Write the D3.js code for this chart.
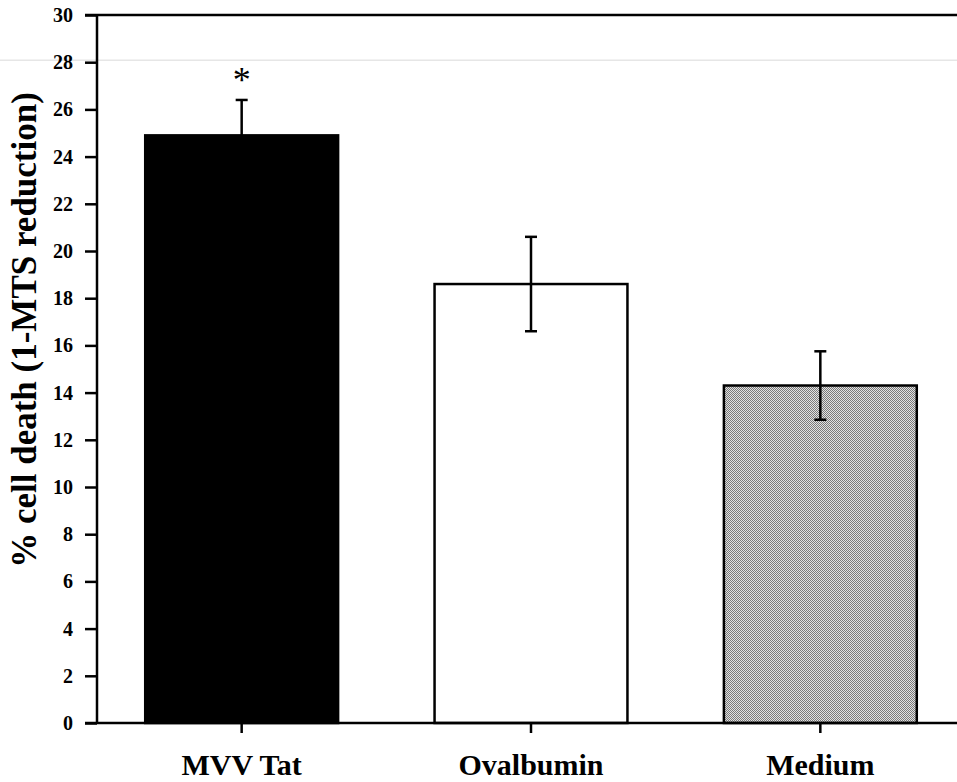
<!DOCTYPE html>
<html>
<head>
<meta charset="utf-8">
<script src="https://cdn.jsdelivr.net/npm/d3@7"></script>
<style>
  html, body { margin: 0; padding: 0; background: #fff; }
  svg { display: block; }
</style>
</head>
<body>
<script>
// Cell death after treatment, mean ± error
const categories = ["MVV Tat", "Ovalbumin", "Medium"];
const means = [24.9, 18.6, 14.3];
const errors = [1.5, 2.0, 1.45];
const significant = [true, false, false];
const yTicks = [0, 2, 4, 6, 8, 10, 12, 14, 16, 18, 20, 22, 24, 26, 28, 30];
const yLabel = "% cell death (1-MTS reduction)";

const W = 957, H = 782;
const margin = { left: 97, top: 15, right: -8, bottom: 59 };
const FONT = "'Liberation Serif', 'Times New Roman', Times, serif";

const svg = d3.select("body").append("svg")
  .attr("width", W).attr("height", H)
  .attr("font-family", FONT);

// dithered grey fill for the medium control bar
const defs = svg.append("defs");
const pat = defs.append("pattern")
  .attr("id", "dither").attr("patternUnits", "userSpaceOnUse")
  .attr("width", 2).attr("height", 2);
pat.append("rect").attr("width", 2).attr("height", 2).attr("fill", "#e2e2e2");
pat.append("rect").attr("x", 0).attr("y", 0).attr("width", 1).attr("height", 1).attr("fill", "#7a7a7a");
pat.append("rect").attr("x", 1).attr("y", 1).attr("width", 1).attr("height", 1).attr("fill", "#7a7a7a");

const x = d3.scaleBand()
  .domain(categories)
  .range([margin.left, W - margin.right])
  .paddingInner(1 / 3)
  .paddingOuter(1 / 6);

const y = d3.scaleLinear()
  .domain([0, 30])
  .range([H - margin.bottom, margin.top]);

const fills = ["#000", "#fff", "url(#dither)"];

// faint horizontal streak across the page
svg.append("line")
  .attr("x1", 0).attr("x2", W)
  .attr("y1", y(28) - 2).attr("y2", y(28) - 2)
  .attr("stroke", "#e6e6e6").attr("stroke-width", 1.5);

// bars
svg.append("g").selectAll("rect")
  .data(categories)
  .join("rect")
  .attr("x", d => x(d))
  .attr("y", (d, i) => y(means[i]))
  .attr("width", x.bandwidth())
  .attr("height", (d, i) => y(0) - y(means[i]))
  .attr("fill", (d, i) => fills[i])
  .attr("stroke", "#000")
  .attr("stroke-width", 2.5);

// error bars
const eb = svg.append("g").attr("stroke", "#000").attr("stroke-width", 2.5);
categories.forEach((c, i) => {
  const cx = x(c) + x.bandwidth() / 2;
  const lo = means[i] - errors[i], hi = means[i] + errors[i];
  eb.append("line").attr("x1", cx).attr("x2", cx)
    .attr("y1", y(i === 0 ? means[i] : lo)).attr("y2", y(hi));
  eb.append("line").attr("x1", cx - 6).attr("x2", cx + 6).attr("y1", y(hi)).attr("y2", y(hi));
  if (i !== 0) eb.append("line").attr("x1", cx - 6).attr("x2", cx + 6).attr("y1", y(lo)).attr("y2", y(lo));
  if (significant[i]) {
    svg.append("text")
      .attr("x", cx).attr("y", y(hi) - 8)
      .attr("text-anchor", "middle")
      .attr("font-size", 36).attr("font-weight", "normal")
      .text("*");
  }
});

// y axis
const yAxis = svg.append("g")
  .attr("transform", `translate(${margin.left},0)`)
  .call(d3.axisLeft(y).tickValues(yTicks).tickSize(12).tickPadding(12).tickFormat(d3.format("d")))
  .attr("font-family", FONT).attr("font-size", 20).attr("font-weight", "bold");
yAxis.select(".domain").attr("stroke-width", 2.5).attr("d", `M0,${y(30)}V${y(0)}`);
yAxis.selectAll(".tick line").attr("stroke-width", 2.5);

// x axis
const xAxis = svg.append("g")
  .attr("transform", `translate(0,${y(0)})`)
  .call(d3.axisBottom(x).tickSize(10).tickPadding(21))
  .attr("font-family", FONT).attr("font-size", 30).attr("font-weight", "bold");
xAxis.select(".domain").attr("stroke-width", 2.5).attr("d", `M${margin.left - 12},0H${W}`);
xAxis.selectAll(".tick line").attr("stroke-width", 2.5);

// top frame line
svg.append("line")
  .attr("x1", margin.left - 12).attr("x2", W)
  .attr("y1", y(30)).attr("y2", y(30))
  .attr("stroke", "#000").attr("stroke-width", 2.5);

// y label
svg.append("text")
  .attr("transform", `translate(36,330) rotate(-90)`)
  .attr("text-anchor", "middle")
  .attr("font-size", 35).attr("font-weight", "bold")
  .text(yLabel);
</script>
</body>
</html>
